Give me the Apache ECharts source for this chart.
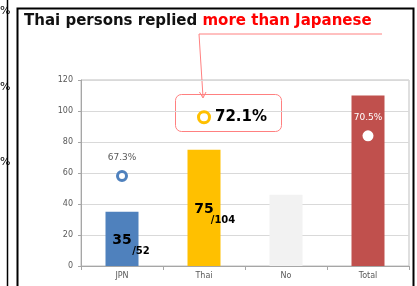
<!DOCTYPE html>
<html>
<head>
<meta charset="utf-8">
<script src="https://cdn.jsdelivr.net/npm/echarts@6/dist/echarts.min.js"></script>
<style>
  html, body { margin: 0; padding: 0; background: #fff; }
  #main { width: 417px; height: 286px; }
</style>
</head>
<body>
<div id="main"></div>
<script>
// data
var categories = ['JPN', 'Thai', 'No', 'Total'];
var barValues = [35, 75, 46, 110];
var barTotals = ['52', '104', '', ''];
var barColors = ['#4f81bd', '#ffc000', '#f2f2f2', '#c0504d'];
var rateValues = [58, 96, null, 84];
var rateLabels = ['67.3%', '72.1%', '', '70.5%'];
var yTicks = [0, 20, 40, 60, 80, 100, 120];

var dom = document.getElementById('main');
var myChart = echarts.init(dom);

var barData = barValues.map(function (v, i) {
    return {
        value: v,
        itemStyle: { color: barColors[i] },
        label: {
            show: barTotals[i] !== '',
            formatter: '{n|' + v + '}\n{d|/' + barTotals[i] + '}'
        }
    };
});

var pointStyles = [
    { symbolSize: 9, itemStyle: { color: '#fff', borderColor: '#4f81bd', borderWidth: 3, opacity: 1 },
      label: { show: true, position: 'top', distance: 8, color: '#595959', fontSize: 9 } },
    { symbolSize: 11, itemStyle: { color: '#fff', borderColor: '#ffc000', borderWidth: 3, opacity: 1 },
      label: { show: true, position: 'right', distance: 4, color: '#000', fontSize: 15, fontWeight: 'bold' } },
    {},
    { symbolSize: 11, itemStyle: { color: '#fff', borderColor: '#fff', borderWidth: 0, opacity: 1 },
      label: { show: true, position: 'top', distance: 8, color: '#fff', fontSize: 9 } }
];
var rateData = rateValues.map(function (v, i) {
    var o = { value: v };
    for (var k in pointStyles[i]) o[k] = pointStyles[i][k];
    if (o.label) o.label.formatter = rateLabels[i];
    return o;
});

option = {
    animation: false,
    textStyle: { fontFamily: 'DejaVu Sans' },
    grid: { left: 81, right: 8, top: 80, bottom: 20, show: true, borderColor: '#bfbfbf', borderWidth: 1 },
    xAxis: {
        type: 'category',
        data: categories,
        axisLine: { lineStyle: { color: '#a6a6a6' } },
        axisTick: { show: true, length: 4, lineStyle: { color: '#a6a6a6' } },
        axisLabel: { color: '#595959', fontSize: 8, margin: 6 }
    },
    yAxis: {
        type: 'value',
        min: yTicks[0],
        max: yTicks[yTicks.length - 1],
        interval: 20,
        axisLine: { show: true, lineStyle: { color: '#a6a6a6' } },
        axisTick: { show: true, length: 3, lineStyle: { color: '#a6a6a6' } },
        axisLabel: { color: '#595959', fontSize: 8, margin: 8 },
        splitLine: { lineStyle: { color: '#d9d9d9' } }
    },
    series: [{
        type: 'bar',
        data: barData,
        barWidth: 33,
        label: {
            position: 'inside',
            offset: [0, 6],
            rich: {
                n: { fontSize: 14, fontWeight: 'bold', color: '#000', align: 'center' },
                d: { fontSize: 10, fontWeight: 'bold', color: '#000', padding: [0, 0, 0, 38] }
            }
        }
    }, {
        type: 'scatter',
        data: rateData,
        symbol: 'circle',
        z: 5
    }],
    graphic: [
        // left page fragments
        { type: 'line', shape: { x1: 7.5, y1: 0, x2: 7.5, y2: 286 }, style: { stroke: '#000', lineWidth: 1.5 } },
        { type: 'text', left: 0, top: 6, style: { text: '%', fontSize: 11, fill: '#000', fontFamily: 'DejaVu Sans' } },
        { type: 'text', left: 0, top: 82, style: { text: '%', fontSize: 11, fill: '#000', fontFamily: 'DejaVu Sans' } },
        { type: 'text', left: 0, top: 157, style: { text: '%', fontSize: 11, fill: '#000', fontFamily: 'DejaVu Sans' } },
        // frame
        { type: 'rect', shape: { x: 17.5, y: 8.5, width: 396, height: 290 }, style: { fill: 'none', stroke: '#000', lineWidth: 2 } },
        // title
        { type: 'text', left: 24, top: 14, style: {
            rich: {
                a: { fontSize: 15, fontWeight: 'bold', fill: '#111', fontFamily: 'DejaVu Sans' },
                b: { fontSize: 15, fontWeight: 'bold', fill: '#ff0000', fontFamily: 'DejaVu Sans' }
            },
            text: '{a|Thai persons replied }{b|more than Japanese}'
        } },
        // callout
        { type: 'polyline', shape: { points: [[382, 34], [199, 34], [203, 97]] }, style: { fill: 'none', stroke: '#ff8080', lineWidth: 1 } },
        { type: 'polyline', shape: { points: [[199.5, 92], [203, 98], [206, 92]] }, style: { fill: 'none', stroke: '#ff8080', lineWidth: 1 } },
        { type: 'rect', shape: { x: 175.5, y: 94.5, width: 106, height: 37, r: 6 }, style: { fill: 'none', stroke: '#ff8080', lineWidth: 1 } }
    ]
};

if (option && typeof option === "object") {
    myChart.setOption(option, true);
}
</script>
</body>
</html>
